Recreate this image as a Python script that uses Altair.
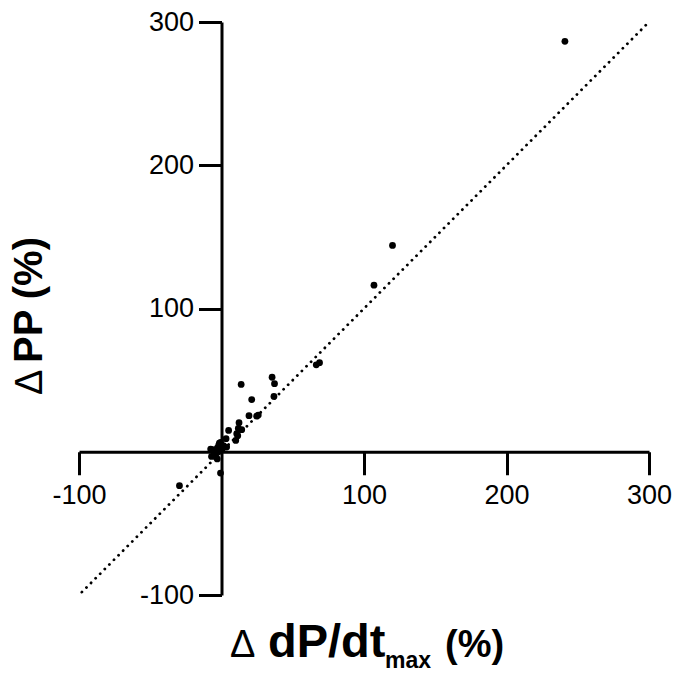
import altair as alt
import pandas as pd

# data points (ΔdP/dtmax %, ΔPP %)
dpdt = [241.0, 120.0, 107.0, 66.5, 68.8, 35.5, 37.2, 13.8, 36.8, 21.2,
        19.3, 24.7, 25.8, 12.3, 11.8, 14.2, 10.7, 11.4, 10.0, 5.0,
        3.2, -1.5, -0.6, 1.3, 3.6, -6.2, -4.2, -3.0, -2.0, -7.0,
        -4.0, -0.7, -29.5, -5.0, -3.0, -1.0, 0.5, -7.6]
pp = [286.5, 144.0, 116.3, 60.7, 62.2, 52.0, 47.5, 47.0, 38.6, 36.4,
      25.2, 24.8, 25.6, 20.3, 16.3, 15.4, 12.6, 11.2, 7.9, 14.9,
      9.1, 6.0, 6.5, 4.2, 3.3, 1.4, -0.9, 2.6, 4.4, -3.3,
      -3.5, -14.9, -23.7, -1.5, -5.0, 1.0, 2.0, 1.9]
identity_x = [-98, 300]
identity_y = [-98, 300]
tick_values = [-100, 100, 200, 300]

pts = pd.DataFrame({"x": dpdt, "y": pp})
line_df = pd.DataFrame({"x": identity_x, "y": identity_y})

W, H = 570, 573
xs = alt.Scale(domain=[-100, 300], nice=False, zero=False)
ys = alt.Scale(domain=[-100, 300], nice=False, zero=False)

FONT = "Liberation Sans"
x_off = -(H * 100 / 400)   # x-axis crosses at y = 0
y_off = -(W * 100 / 400)   # y-axis crosses at x = 0

common = dict(values=tick_values, title=None, grid=False,
              domainWidth=3, domainColor="black", tickWidth=3,
              tickColor="black", tickSize=23, labelFontSize=27,
              labelFont=FONT, labelColor="black", labelFlush=False,
              labelExpr="'' + datum.value")
xaxis = alt.Axis(offset=x_off, labelPadding=8, **common)
yaxis = alt.Axis(offset=y_off, labelPadding=5, **common)

ident = alt.Chart(line_df).mark_line(
    color="black", strokeWidth=2.8, strokeDash=[0.1, 6.4], strokeCap="round"
).encode(x=alt.X("x:Q", scale=xs, axis=xaxis), y=alt.Y("y:Q", scale=ys, axis=yaxis))

dots = alt.Chart(pts).mark_circle(color="black", opacity=1, size=46).encode(
    x=alt.X("x:Q", scale=xs), y=alt.Y("y:Q", scale=ys)
)

def txt(s, x, y, size, weight="bold", angle=0, align="left", base="alphabetic"):
    return alt.Chart(pd.DataFrame({"t": [s]})).mark_text(
        font=FONT, fontSize=size, fontWeight=weight, angle=angle,
        align=align, baseline=base, color="black"
    ).encode(text="t:N", x=alt.value(x), y=alt.value(y))

# x title pieces (plot-area coordinates)
xt = [
    txt("Δ", 151, 635, 38, weight="normal"),
    txt("dP/dt", 189, 635, 47),
    txt("max", 306, 646, 23),
    txt("(%)", 366, 635, 38),
]
# y title pieces (rotated)
yt = [
    txt("Δ", -37, 373, 38, weight="normal", angle=270),
    txt("PP (%)", -37, 341, 40, angle=270),
]

chart = alt.layer(ident, dots, *xt, *yt).properties(
    width=W, height=H,
    autosize=alt.AutoSizeParams(type="none"),
    padding={"left": 79, "top": 22, "right": 26, "bottom": 80},
    background="white",
).configure_view(stroke=None)

chart.save("out.html", embed_options={"renderer": "svg", "actions": False})
